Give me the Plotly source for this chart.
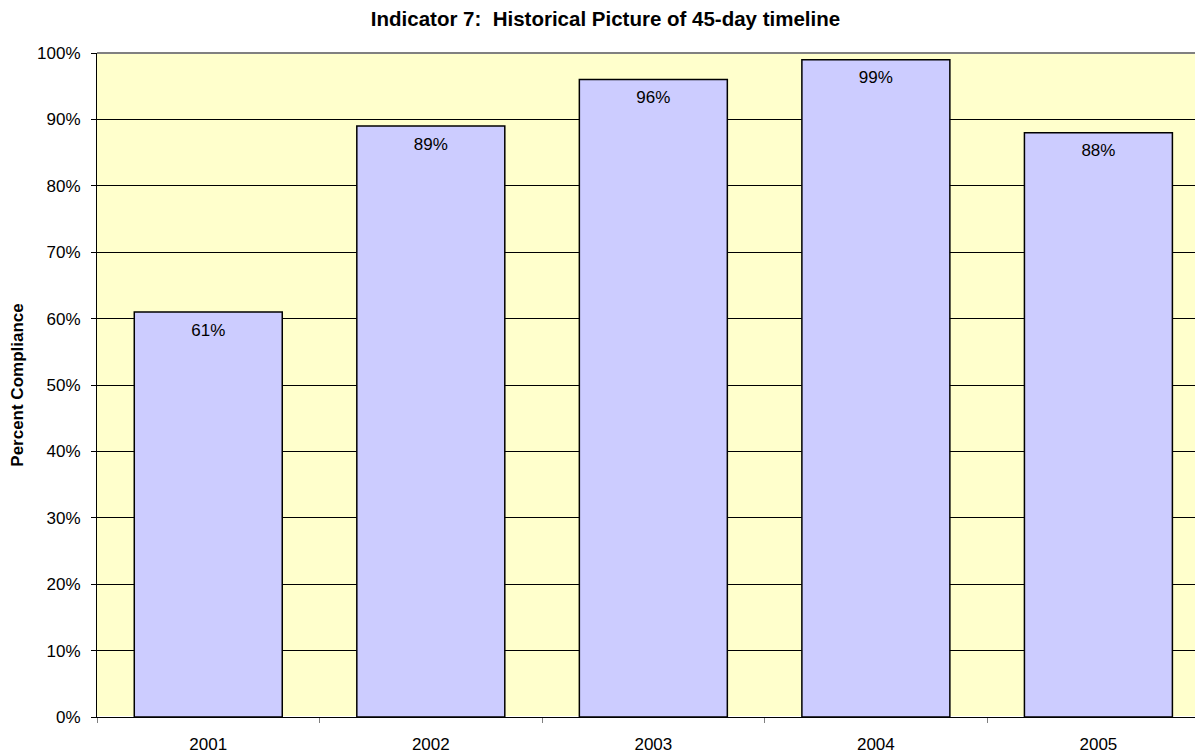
import plotly.graph_objects as go

years = ['2001', '2002', '2003', '2004', '2005']
compliance = [0.61, 0.89, 0.96, 0.99, 0.88]
y_ticks = [i / 10 for i in range(11)]

FONT = 'Arial, Liberation Sans, sans-serif'

fig = go.Figure()
fig.add_trace(go.Bar(
    x=years,
    y=compliance,
    width=0.665,
    marker=dict(color='#CCCCFF', line=dict(color='black', width=1.5)),
    hoverinfo='none'
))

# value labels just inside the top of each bar (invisible marker sets the gap)
fig.add_trace(go.Scatter(
    x=years,
    y=compliance,
    mode='markers+text',
    marker=dict(size=16, opacity=0),
    text=[f'{v:.0%}' for v in compliance],
    textposition='bottom center',
    textfont=dict(family=FONT, size=17, color='black'),
    hoverinfo='none'
))

# page has an 8px body margin, so the figure is a little smaller than the window
fig.update_layout(
    width=1195,
    height=746,
    showlegend=False,
    paper_bgcolor='white',
    plot_bgcolor='#FFFFCC',
    margin=dict(l=89, r=0, t=45, b=37),
    font=dict(family=FONT, size=17, color='black'),
    title=dict(
        text='<b>Indicator 7:  Historical Picture of 45-day timeline</b>',
        x=0.5, xanchor='center', y=1 - 11 / 746, yanchor='middle',
        font=dict(size=20.5)
    ),
)

fig.update_xaxes(
    range=[-0.5, 4.47],
    tickson='boundaries',
    ticks='outside', ticklen=5, tickcolor='#808080',
    ticklabelstandoff=12,
    showline=True, linecolor='black', linewidth=1,
    showgrid=False,
)
fig.update_yaxes(
    range=[0, 1],
    tickvals=y_ticks,
    tickformat='.0%',
    ticks='outside', ticklen=5, tickcolor='black',
    ticklabelstandoff=7,
    showline=True, linecolor='black', linewidth=1,
    showgrid=True, gridcolor='black', gridwidth=1,
    title=dict(text='<b>Percent Compliance</b>', standoff=10, font=dict(size=17)),
)

# grey top border of the plot area
fig.add_shape(type='line', xref='paper', yref='paper', x0=0, x1=1, y0=1, y1=1,
              line=dict(color='#808080', width=2))

fig.write_html('out.html')
